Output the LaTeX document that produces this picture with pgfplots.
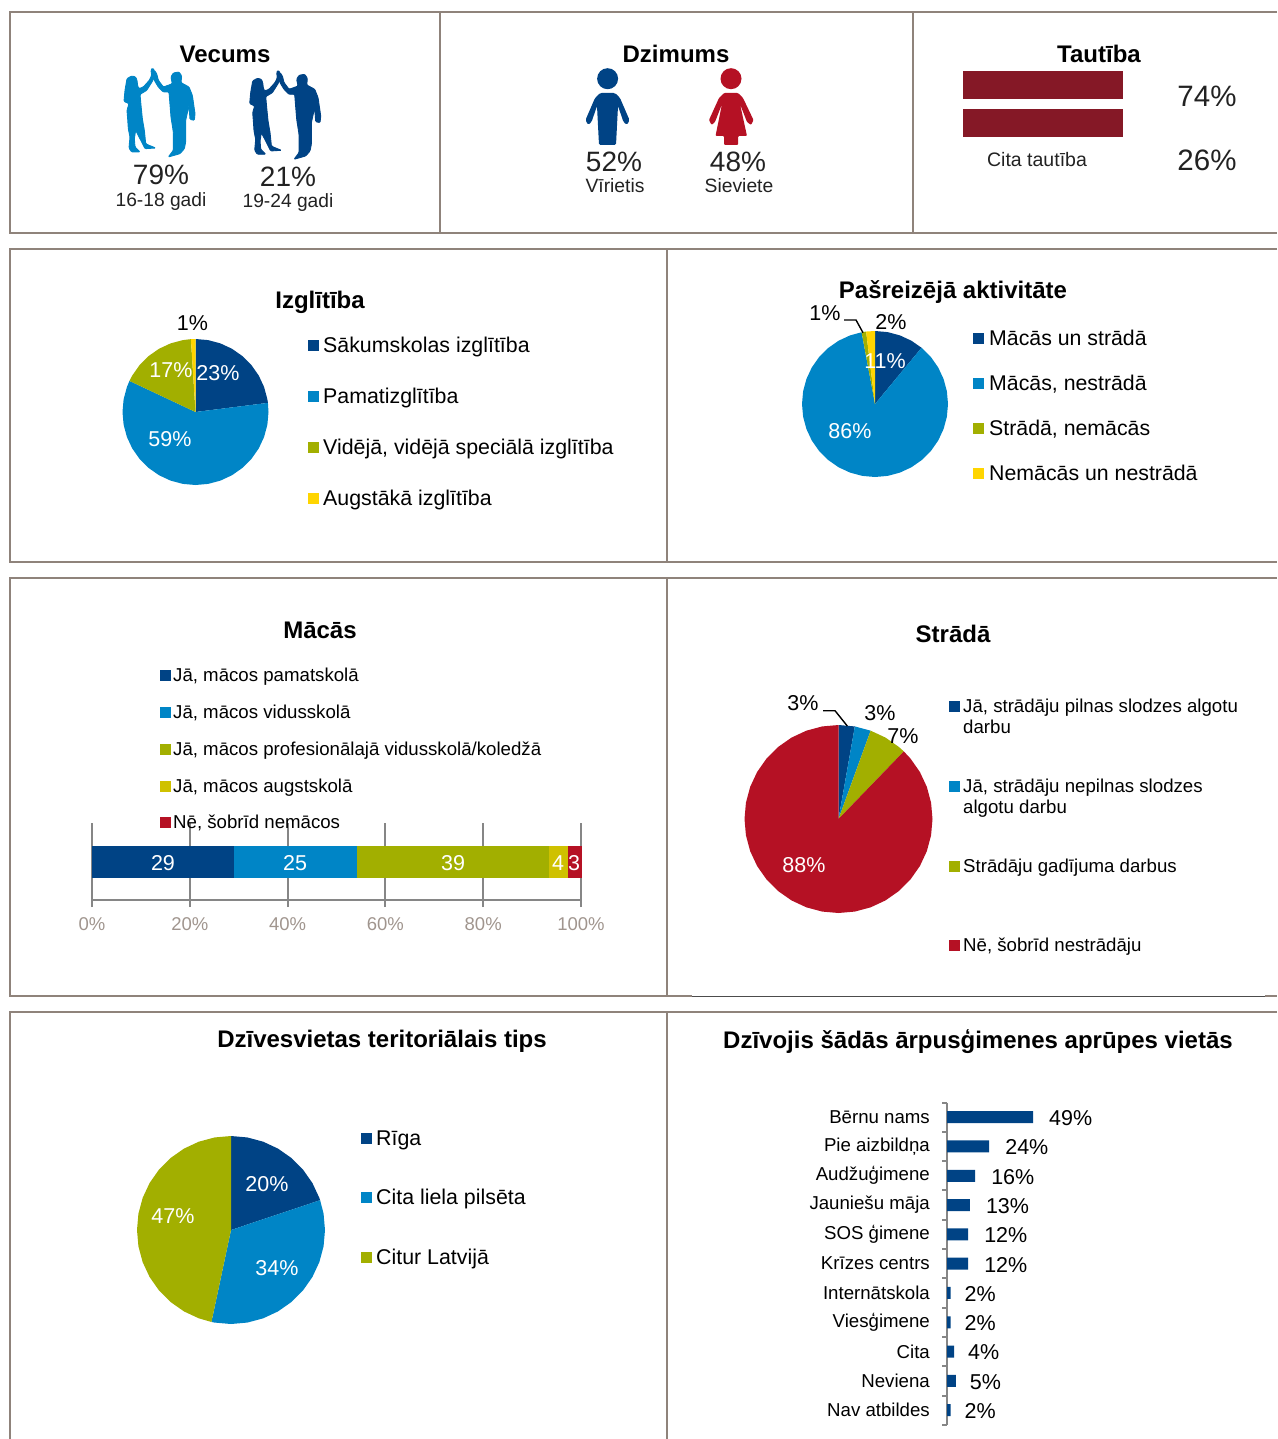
\documentclass[border=0pt]{standalone}
\usepackage{fontspec}
\setmainfont{Liberation Sans}
\usepackage{pgfplots}
\pgfplotsset{compat=1.18}
\usepgfplotslibrary{polar}
\definecolor{cDark}{HTML}{004385}
\definecolor{cBlue}{HTML}{0085C6}
\definecolor{cOlive}{HTML}{A2AF00}
\definecolor{cYellow}{HTML}{FFD500}
\definecolor{cGold}{HTML}{CFC100}
\definecolor{cRed}{HTML}{B51124}
\definecolor{cFlag}{HTML}{851826}
\definecolor{cFrame}{HTML}{8F837B}
\definecolor{cGrid}{HTML}{868686}
\definecolor{cTick}{HTML}{A0958E}
\definecolor{cText}{HTML}{222222}
% x, y, size, anchor, text: y is the middle of the capitals
\newcommand\T[5]{\node[inner sep=0pt,anchor=#4,text height={#3*0.716pt},text depth=0pt] at (#1,#2) {\fontsize{#3}{#3}\selectfont #5};}
\newcommand\TW[5]{\node[inner sep=0pt,anchor=#4,text=white,text height={#3*0.716pt},text depth=0pt] at (#1,#2) {\fontsize{#3}{#3}\selectfont #5};}
\newcommand\K[3]{\fill[#3] (#1,#2-5.5) rectangle (#1+11,#2+5.5);}
\pgfplotsset{pie/.style={scale only axis,width=#1,height=#1,anchor=center,axis lines=none,
  xtick=\empty,ytick=\empty,xmin=0,xmax=360,ymin=0,ymax=1,clip=false}}
\newcommand\Pair[3]{%
\begin{scope}[xshift=#1pt,yshift=-#2pt,x=.33333pt,y=-.33333pt]
\filldraw[#3,line width=.9pt,rounded corners=1pt] (50,42)--(62,45)--(66,55)--(68,72)--(72,80)--(85,75)--(103,55)--(110,40)--(108,25)--(112,18)--(118,25)--(120,40)--(112,58)--(95,85)--(75,97)--(78,130)--(82,170)--(88,205)--(92,245)--(102,250)--(122,258)--(90,260)--(80,240)--(62,205)--(58,230)--(60,255)--(75,270)--(50,270)--(42,258)--(45,225)--(40,200)--(38,170)--(36,145)--(42,125)--(27,118)--(30,85)--(36,50)--cycle;
\filldraw[#3,line width=.9pt,rounded corners=1pt] (118,25)--(125,35)--(130,55)--(145,75)--(165,68)--(172,65)--(168,45)--(175,33)--(192,30)--(200,42)--(198,62)--(222,75)--(232,100)--(240,155)--(238,175)--(225,172)--(222,130)--(212,175)--(212,240)--(208,260)--(195,275)--(160,285)--(175,265)--(175,210)--(168,165)--(162,90)--(145,90)--(130,75)--(118,55)--(112,35)--cycle;
\end{scope}}
\begin{document}
\begin{tikzpicture}[x=1pt,y=-1pt]
\path[use as bounding box] (0,0) rectangle (1277,1439);
% frames
\begin{scope}[draw=cFrame,line width=2pt]
\draw (1277,12)--(10,12)--(10,233)--(1277,233);
\draw (440,12)--(440,233) (913,12)--(913,233);
\draw (1277,249)--(10,249)--(10,562)--(1277,562);
\draw (667,249)--(667,562);
\draw (1277,578)--(10,578)--(10,996)--(692,996);
\draw (1265,996)--(1277,996);
\draw (667,578)--(667,996);
\draw (1277,1012)--(10,1012)--(10,1439);
\draw (667,1012)--(667,1439);
\end{scope}
\draw[line width=.6pt,black!70] (692,996)--(1265,996);
% Vecums
\T{225}{54}{24}{center}{\bfseries Vecums}
\Pair{115}{62}{cBlue}
\Pair{240.7}{64.3}{cDark}
\T{161}{174}{28}{center}{\color{cText}79\%}
\T{288}{176}{28}{center}{\color{cText}21\%}
\T{161}{200}{19.2}{center}{\color{cText}16-18 gadi}
\T{288}{201}{19.2}{center}{\color{cText}19-24 gadi}
% Dzimums
\T{676}{54}{24}{center}{\bfseries Dzimums}
\fill[cDark] (607.6,78.7) ellipse (10.5 and 10.5);
\fill[cDark,rounded corners=1.5pt] (600,93)--(615,93)--(620,98)--(629.5,120)--(627,125)--(623.5,122)--(618,106)--(616,145)--(599,145)--(597,106)--(591.5,122)--(588,125)--(585.5,120)--(595,98)--cycle;
\fill[cRed] (731,78.7) ellipse (10.5 and 10.5);
\fill[cRed,rounded corners=1pt] (724,93)--(738,93)--(743,98)--(753.5,120)--(751,125)--(747,122)--(740,104)--(747,136)--(738,136)--(738,145)--(724,145)--(724,136)--(715.5,136)--(722,104)--(715,122)--(711.5,125)--(709,120)--(719,98)--cycle;
\T{614}{161}{28}{center}{\color{cText}52\%}
\T{738}{161}{28}{center}{\color{cText}48\%}
\T{615}{186}{19.3}{center}{\color{cText}Vīrietis}
\T{739}{186}{19.3}{center}{\color{cText}Sieviete}
% Tautiba
\T{1099}{54}{24}{center}{\bfseries Tautība}
\fill[cFlag] (962.7,71.3) rectangle (1123.4,99.3);
\fill[cFlag] (962.7,109.3) rectangle (1123.4,137);
\T{1207}{96}{29.5}{center}{\color{cText}74\%}
\T{1207}{160}{29.5}{center}{\color{cText}26\%}
\T{1037}{160}{19.5}{center}{\color{cText}Cita tautība}
% Izglitiba
\T{320}{300}{24}{center}{\bfseries Izglītība}
\begin{polaraxis}[pie=146pt,at={(195.5pt,-412pt)}]
\addplot[fill=cDark,draw=none] coordinates {(0,0)(90,1)(80,1)(70,1)(60,1)(50,1)(40,1)(30,1)(20,1)(10,1)(7.2,1)} -- cycle;
\addplot[fill=cBlue,draw=none] coordinates {(0,0)(7.2,1)(0,1)(-10,1)(-20,1)(-30,1)(-40,1)(-50,1)(-60,1)(-70,1)(-80,1)(-90,1)(-100,1)(-110,1)(-120,1)(-130,1)(-140,1)(-150,1)(-160,1)(-170,1)(-180,1)(-190,1)(-200,1)(-205.2,1)} -- cycle;
\addplot[fill=cOlive,draw=none] coordinates {(0,0)(-205.2,1)(-210,1)(-220,1)(-230,1)(-240,1)(-250,1)(-260,1)(-266.4,1)} -- cycle;
\addplot[fill=cYellow,draw=none] coordinates {(0,0)(-266.4,1)(-270,1)} -- cycle;
\end{polaraxis}
\TW{218}{373}{21.5}{center}{23\%}
\TW{170}{439}{21.5}{center}{59\%}
\TW{171}{370}{21.5}{center}{17\%}
\T{192.5}{323}{21.5}{center}{1\%}
\K{308}{345}{cDark}\T{323}{345}{21.35}{west}{Sākumskolas izglītība}
\K{308}{396}{cBlue}\T{323}{396}{21.35}{west}{Pamatizglītība}
\K{308}{447}{cOlive}\T{323}{447}{21.35}{west}{Vidējā, vidējā speciālā izglītība}
\K{308}{498}{cYellow}\T{323}{498}{21.35}{west}{Augstākā izglītība}
% Pasreizeja aktivitate
\T{953}{290}{24}{center}{\bfseries Pašreizējā aktivitāte}
\begin{polaraxis}[pie=146pt,at={(875pt,-404pt)}]
\addplot[fill=cDark,draw=none] coordinates {(0,0)(90,1)(80,1)(70,1)(60,1)(50.4,1)} -- cycle;
\addplot[fill=cBlue,draw=none] coordinates {(0,0)(50.4,1)(40,1)(30,1)(20,1)(10,1)(0,1)(-10,1)(-20,1)(-30,1)(-40,1)(-50,1)(-60,1)(-70,1)(-80,1)(-90,1)(-100,1)(-110,1)(-120,1)(-130,1)(-140,1)(-150,1)(-160,1)(-170,1)(-180,1)(-190,1)(-200,1)(-210,1)(-220,1)(-230,1)(-240,1)(-250,1)(-259.4,1)} -- cycle;
\addplot[fill=cOlive,draw=none] coordinates {(0,0)(-259.4,1)(-263,1)} -- cycle;
\addplot[fill=cYellow,draw=none] coordinates {(0,0)(-263,1)(-270,1)} -- cycle;
\end{polaraxis}
\TW{885}{361}{21.5}{center}{11\%}
\TW{850}{431}{21.5}{center}{86\%}
\T{825}{313}{21.5}{center}{1\%}
\T{891}{322}{21.5}{center}{2\%}
\draw[line width=1.4pt] (844,320)--(856,320)--(863,332.7);
\K{973}{338}{cDark}\T{989}{338}{21.3}{west}{Mācās un strādā}
\K{973}{383}{cBlue}\T{989}{383}{21.3}{west}{Mācās, nestrādā}
\K{973}{428}{cOlive}\T{989}{428}{21.3}{west}{Strādā, nemācās}
\K{973}{473}{cYellow}\T{989}{473}{21.3}{west}{Nemācās un nestrādā}
% Macas
\T{320}{630}{24}{center}{\bfseries Mācās}
\begin{axis}[scale only axis,width=489pt,height=77pt,at={(92pt,-900pt)},anchor=south west,
  xbar stacked,bar width=32pt,xmin=0,xmax=100,ymin=-1,ymax=1,
  axis y line=none,axis x line=bottom,
  xtick={0,20,40,60,80,100},xticklabel={\pgfmathprintnumber{\tick}\%},
  xmajorgrids,grid style={draw=cGrid,line width=2pt},
  x axis line style={draw=cGrid,line width=2pt,-},
  xtick style={draw=cGrid,line width=2pt},
  tick align=outside,major tick length=7pt,
  /pgf/number format/assume math mode=true,
  xticklabel style={font=\fontsize{18.5}{20}\selectfont,text=cTick,yshift=-7pt},
  ytick=\empty,clip=false,axis on top=false]
\addplot[fill=cDark,draw=none] coordinates {(29,0)};
\addplot[fill=cBlue,draw=none] coordinates {(25.2,0)};
\addplot[fill=cOlive,draw=none] coordinates {(39.2,0)};
\addplot[fill=cGold,draw=none] coordinates {(3.9,0)};
\addplot[fill=cRed,draw=none] coordinates {(2.9,0)};
\end{axis}
\begin{axis}[scale only axis,width=489pt,height=77pt,at={(92pt,-900pt)},anchor=south west,
  xmin=0,xmax=100,ymin=-1,ymax=1,axis lines=none,clip=false]
\addplot[draw=cGrid,line width=2pt] coordinates {(0,-1)(100,-1)};
\end{axis}
\TW{163}{863}{21.5}{center}{29}
\TW{295}{863}{21.5}{center}{25}
\TW{453}{863}{21.5}{center}{39}
\TW{558}{863}{21.5}{center}{4}
\TW{574}{863}{21.5}{center}{3}
\K{160}{675}{cDark}\T{173}{675}{18.65}{west}{Jā, mācos pamatskolā}
\K{160}{712}{cBlue}\T{173}{712}{18.65}{west}{Jā, mācos vidusskolā}
\K{160}{749}{cOlive}\T{173}{749}{18.65}{west}{Jā, mācos profesionālajā vidusskolā/koledžā}
\K{160}{786}{cGold}\T{173}{786}{18.65}{west}{Jā, mācos augstskolā}
\K{160}{822}{cRed}\T{173}{822}{18.65}{west}{Nē, šobrīd nemācos}
% Strada
\T{953}{634}{24}{center}{\bfseries Strādā}
\begin{polaraxis}[pie=188pt,at={(838.5pt,-819pt)}]
\addplot[fill=cDark,draw=none] coordinates {(0,0)(90,1)(80,1)} -- cycle;
\addplot[fill=cBlue,draw=none] coordinates {(0,0)(80,1)(70,1)} -- cycle;
\addplot[fill=cOlive,draw=none] coordinates {(0,0)(70,1)(60,1)(50,1)(46,1)} -- cycle;
\addplot[fill=cRed,draw=none] coordinates {(0,0)(46,1)(40,1)(30,1)(20,1)(10,1)(0,1)(-10,1)(-20,1)(-30,1)(-40,1)(-50,1)(-60,1)(-70,1)(-80,1)(-90,1)(-100,1)(-110,1)(-120,1)(-130,1)(-140,1)(-150,1)(-160,1)(-170,1)(-180,1)(-190,1)(-200,1)(-210,1)(-220,1)(-230,1)(-240,1)(-250,1)(-260,1)(-270,1)} -- cycle;
\end{polaraxis}
\T{803}{703}{21.5}{center}{3\%}
\T{880}{713}{21.5}{center}{3\%}
\T{903}{736}{21.5}{center}{7\%}
\TW{804}{865}{21.5}{center}{88\%}
\draw[line width=1.4pt] (823,710.7)--(835,710.7)--(847.3,726);
\K{949}{706}{cDark}\T{963}{706}{18.65}{west}{Jā, strādāju pilnas slodzes algotu}\T{963}{727}{18.65}{west}{darbu}
\K{949}{786}{cBlue}\T{963}{786}{18.65}{west}{Jā, strādāju nepilnas slodzes}\T{963}{807}{18.65}{west}{algotu darbu}
\K{949}{866}{cOlive}\T{963}{866}{18.65}{west}{Strādāju gadījuma darbus}
\K{949}{945}{cRed}\T{963}{945}{18.65}{west}{Nē, šobrīd nestrādāju}
% Dzivesvietas
\T{382}{1039}{24}{center}{\bfseries Dzīvesvietas teritoriālais tips}
\begin{polaraxis}[pie=188pt,at={(231pt,-1230pt)}]
\addplot[fill=cDark,draw=none] coordinates {(0,0)(90,1)(80,1)(70,1)(60,1)(50,1)(40,1)(30,1)(20,1)(18.5,1)} -- cycle;
\addplot[fill=cBlue,draw=none] coordinates {(0,0)(18.5,1)(10,1)(0,1)(-10,1)(-20,1)(-30,1)(-40,1)(-50,1)(-60,1)(-70,1)(-80,1)(-90,1)(-100,1)(-102,1)} -- cycle;
\addplot[fill=cOlive,draw=none] coordinates {(0,0)(-102,1)(-110,1)(-120,1)(-130,1)(-140,1)(-150,1)(-160,1)(-170,1)(-180,1)(-190,1)(-200,1)(-210,1)(-220,1)(-230,1)(-240,1)(-250,1)(-260,1)(-270,1)} -- cycle;
\end{polaraxis}
\TW{267}{1184}{21.5}{center}{20\%}
\TW{277}{1268}{21.5}{center}{34\%}
\TW{173}{1216}{21.5}{center}{47\%}
\K{361}{1138}{cDark}\T{376}{1138}{21.35}{west}{Rīga}
\K{361}{1197}{cBlue}\T{376}{1197}{21.35}{west}{Cita liela pilsēta}
\K{361}{1257}{cOlive}\T{376}{1257}{21.35}{west}{Citur Latvijā}
% Dzivojis
\T{978}{1040}{24}{center}{\bfseries Dzīvojis šādās ārpusģimenes aprūpes vietās}
\begin{axis}[scale only axis,width=175.5pt,height=322.3pt,at={(947pt,-1102.5pt)},anchor=north west,
  xbar,bar width=12pt,bar shift=0pt,xmin=0,xmax=100,ymin=-0.5,ymax=10.5,y dir=reverse,
  axis x line=none,axis y line*=left,
  y axis line style={draw=cGrid,line width=2pt,-},
  ytick={0,1,2,3,4,5,6,7,8,9,10},
  yticklabels={Bērnu nams,Pie aizbildņa,Audžuģimene,Jauniešu māja,SOS ģimene,Krīzes centrs,Internātskola,Viesģimene,Cita,Neviena,Nav atbildes},
  major tick length=0pt,
  minor ytick={-0.5,0.5,1.5,2.5,3.5,4.5,5.5,6.5,7.5,8.5,9.5,10.5},
  minor tick length=5pt,tick align=outside,
  minor tick style={draw=cGrid,line width=2pt},
  yticklabel style={font=\fontsize{18.65}{20}\selectfont,xshift=-17pt,inner sep=0pt,anchor=east},
  nodes near coords={\pgfmathprintnumber{\pgfplotspointmeta}\%},point meta=x,
  /pgf/number format/assume math mode=true,
  clip=false]
\addplot[fill=cDark,draw=none,every node near coord/.style={anchor=west,inner sep=0pt,xshift=16pt,yshift=-1pt,font=\fontsize{21.5}{22}\selectfont}] coordinates {(49,0)(24,1)(16,2)(13,3)(12,4)(12,5)};
\addplot[fill=cDark,draw=none,every node near coord/.style={anchor=west,inner sep=0pt,xshift=14pt,yshift=-1pt,font=\fontsize{21.5}{22}\selectfont}] coordinates {(2,6)(2,7)(4,8)(5,9)(2,10)};
\end{axis}
\end{tikzpicture}
\end{document}
